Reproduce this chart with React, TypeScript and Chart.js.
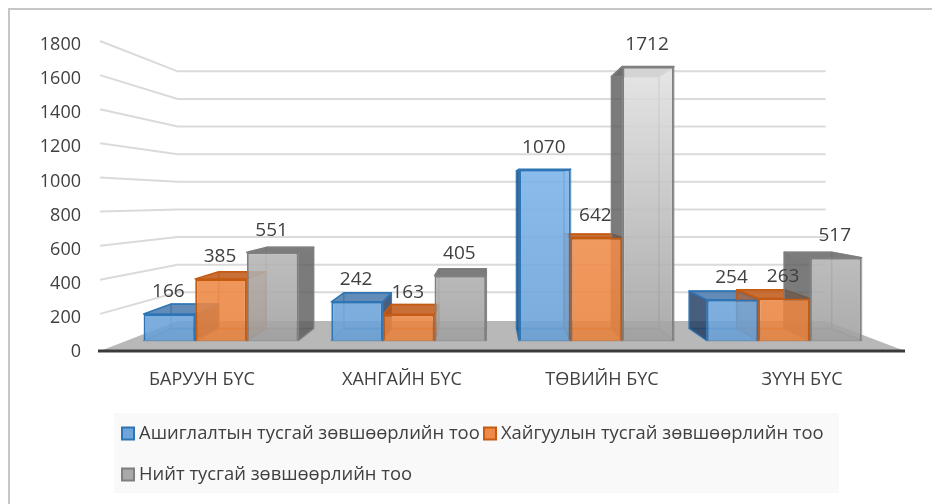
import React, { useEffect, useRef } from "react";
import { Chart, registerables } from "chart.js";

Chart.register(...registerables);

const categories = ["БАРУУН БҮС", "ХАНГАЙН БҮС", "ТӨВИЙН БҮС", "ЗҮҮН БҮС"];
const exploitation = [166, 242, 1070, 254];
const exploration = [385, 163, 642, 263];
const total = [551, 405, 1712, 517];
const seriesNames = [
  "Ашиглалтын тусгай зөвшөөрлийн тоо",
  "Хайгуулын тусгай зөвшөөрлийн тоо",
  "Нийт тусгай зөвшөөрлийн тоо",
];

const FONT = '"Open Sans", "Noto Sans", sans-serif';
const TEXT = "#404040";

const palette = [
  { top: [134, 190, 243], bottom: [104, 160, 214], line: "#2e75b6", lid: "rgba(46,100,160,0.75)", outer: "rgba(30,60,95,0.82)", marker: "#6fa5da" },
  { top: [253, 158, 92], bottom: [232, 130, 62], line: "#c55a11", lid: "rgba(190,85,20,0.85)", outer: "rgba(185,85,20,0.6)", marker: "#ee8a48" },
  { top: [226, 226, 226], bottom: [160, 160, 160], line: "#7f7f7f", lid: "rgba(110,110,110,0.9)", outer: "rgba(90,90,90,0.8)", marker: "#a9a9a9" },
];

const project = (x: number, y: number, k: number, vx: number, vy: number) => ({
  x: vx + k * (x - vx),
  y: vy + k * (y - vy),
});

const BAR_VX = 488;
const BAR_VY = 190;
const BAR_K = 0.92;
const WALL_VX = 500;
const WALL_VY = 192;
const WALL_K = 0.81;

function poly(ctx: CanvasRenderingContext2D, pts: { x: number; y: number }[], fill: string, stroke: string, lw = 2) {
  ctx.beginPath();
  pts.forEach((p, i) => (i ? ctx.lineTo(p.x, p.y) : ctx.moveTo(p.x, p.y)));
  ctx.closePath();
  ctx.fillStyle = fill;
  ctx.fill();
  ctx.strokeStyle = stroke;
  ctx.lineWidth = lw;
  ctx.lineJoin = "round";
  ctx.stroke();
}

const scenePlugin = {
  id: "scene",
  beforeDraw(chart: any) {
    const { ctx, scales, chartArea } = chart;
    const y = scales.y;
    ctx.save();
    // frame
    ctx.strokeStyle = "#c6c6c6";
    ctx.lineWidth = 2;
    ctx.beginPath();
    ctx.moveTo(9, 504);
    ctx.lineTo(9, 9);
    ctx.lineTo(932, 9);
    ctx.stroke();
    // floor
    const y0 = y.getPixelForValue(0);
    const fl = project(chartArea.left, y0, WALL_K, WALL_VX, WALL_VY);
    const fr = project(chartArea.right, y0, WALL_K, WALL_VX, WALL_VY);
    ctx.beginPath();
    ctx.moveTo(chartArea.left - 2, y0 + 1);
    ctx.lineTo(fl.x, fl.y + 1);
    ctx.lineTo(fr.x, fr.y + 1);
    ctx.lineTo(chartArea.right + 3, y0 + 1);
    ctx.closePath();
    ctx.fillStyle = "#b8b8b8";
    ctx.fill();
    // walls
    ctx.strokeStyle = "#dadada";
    ctx.lineWidth = 2;
    y.ticks.forEach((t: any) => {
      if (t.value === 0) return;
      const py = y.getPixelForValue(t.value);
      const a = project(chartArea.left, py, WALL_K, WALL_VX, WALL_VY);
      const b = project(chartArea.right, py, WALL_K, WALL_VX, WALL_VY);
      ctx.beginPath();
      ctx.moveTo(chartArea.left - 2, py - 2);
      ctx.lineTo(a.x, a.y);
      ctx.lineTo(b.x, b.y);
      ctx.stroke();
    });
    ctx.restore();
  },
  beforeDatasetsDraw(chart: any) {
    const { ctx } = chart;
    ctx.save();
    chart.data.datasets.forEach((_: any, di: number) => {
      const c = palette[di];
      chart.getDatasetMeta(di).data.forEach((bar: any) => {
        const l = bar.x - bar.width / 2;
        const r = bar.x + bar.width / 2;
        const t = bar.y;
        const b = bar.base;
        const p = (x: number, y: number) => project(x, y, BAR_K, BAR_VX, BAR_VY);
        const thin = c.line + "88";
        // back, inner faces
        poly(ctx, [p(l, t), p(r, t), p(r, b), p(l, b)], "rgba(255,255,255,0.06)", thin, 1.5);
        poly(ctx, [{ x: l, y: b }, { x: r, y: b }, p(r, b), p(l, b)], "rgba(0,0,0,0.05)", thin, 1.5);
        if (r < BAR_VX) {
          poly(ctx, [{ x: r, y: t }, p(r, t), p(r, b), { x: r, y: b }], c.outer, c.line + "cc", 1.5);
        } else {
          poly(ctx, [{ x: r, y: t }, p(r, t), p(r, b), { x: r, y: b }], "rgba(255,255,255,0.1)", thin, 1.5);
        }
        if (l > BAR_VX) {
          poly(ctx, [{ x: l, y: t }, p(l, t), p(l, b), { x: l, y: b }], c.outer, c.line + "cc", 1.5);
        }
        poly(ctx, [{ x: l, y: t }, { x: r, y: t }, p(r, t), p(l, t)], c.lid, c.line, 1.5);
      });
    });
    ctx.restore();
  },
  afterDatasetsDraw(chart: any) {
    const { ctx, chartArea } = chart;
    ctx.save();
    // category axis line
    ctx.strokeStyle = "#3a3a3a";
    ctx.lineWidth = 3;
    ctx.beginPath();
    ctx.moveTo(chartArea.left - 4, chartArea.bottom + 1);
    ctx.lineTo(chartArea.right + 3, chartArea.bottom + 1);
    ctx.stroke();
    // value labels
    ctx.font = `19px ${FONT}`;
    ctx.fillStyle = TEXT;
    ctx.textAlign = "center";
    ctx.textBaseline = "middle";
    chart.data.datasets.forEach((ds: any, di: number) => {
      chart.getDatasetMeta(di).data.forEach((bar: any, i: number) => {
        ctx.fillText(String(ds.data[i].y), bar.x - 1, bar.y - 22);
      });
    });
    // legend
    ctx.fillStyle = "#f9f9f9";
    ctx.fillRect(114, 413, 725, 80);
    const slots = [
      { x: 122, y: 434 },
      { x: 484, y: 434 },
      { x: 122, y: 475 },
    ];
    ctx.textAlign = "left";
    ctx.font = `18.4px ${FONT}`;
    chart.data.datasets.forEach((ds: any, di: number) => {
      const s = slots[di];
      ctx.fillStyle = palette[di].marker;
      ctx.strokeStyle = palette[di].line;
      ctx.lineWidth = 2;
      ctx.fillRect(s.x, s.y - 6.5, 12, 12);
      ctx.strokeRect(s.x, s.y - 6.5, 12, 12);
      ctx.fillStyle = TEXT;
      ctx.fillText(ds.label, s.x + 17, s.y);
    });
    ctx.restore();
  },
};

export default function App() {
  const ref = useRef<HTMLCanvasElement>(null);
  useEffect(() => {
    document.body.style.margin = "0";
    const canvas = ref.current!;
    const c2d = canvas.getContext("2d")!;
    const fill = (di: number) => {
      const g = c2d.createLinearGradient(0, 66, 0, 340);
      const { top, bottom } = palette[di];
      g.addColorStop(0, `rgba(${top.join(",")},0.88)`);
      g.addColorStop(1, `rgba(${bottom.join(",")},0.88)`);
      return g;
    };
    const series = [exploitation, exploration, total];
    const chart = new Chart(canvas, {
      type: "bar",
      data: {
        labels: categories,
        datasets: series.map((vals, di) => ({
          label: seriesNames[di],
          data: vals.map((v, i) => ({ x: i, y: v })),
          xAxisID: "barX",
          yAxisID: "barY",
          backgroundColor: fill(di),
          borderColor: palette[di].line,
          borderWidth: 2,
          categoryPercentage: 0.825,
          barPercentage: 1,
        })),
      },
      options: {
        responsive: false,
        animation: false,
        layout: { padding: { top: 43, right: 30 } },
        plugins: { legend: { display: false }, title: { display: false }, tooltip: { enabled: false } },
        scales: {
          x: {
            type: "category",
            position: "bottom",
            grid: { display: false, drawTicks: false },
            border: { display: false },
            ticks: { color: TEXT, font: { family: FONT, size: 18 }, padding: 19, maxRotation: 0 },
            afterFit: (s: any) => { s.height = 154; },
          },
          y: {
            type: "linear",
            position: "left",
            min: 0,
            max: 1800,
            grid: { display: false, drawTicks: false },
            border: { display: false },
            ticks: { stepSize: 200, color: TEXT, font: { family: FONT, size: 18 }, padding: 21, labelOffset: 2, callback: (v: any) => String(v) },
            afterFit: (s: any) => { s.width = 102; },
          },
          barX: {
            type: "linear",
            display: false,
            offset: false,
            min: -0.634,
            max: 3.628,
            afterBuildTicks: (s: any) => { s.ticks = categories.map((_, i) => ({ value: i })); },
          },
          barY: { type: "linear", display: false, min: -59.4, max: 1859.4 },
        },
      },
      plugins: [scenePlugin],
    } as any);
    return () => chart.destroy();
  }, []);
  return <canvas ref={ref} width={932} height={504} style={{ display: "block" }} />;
}
